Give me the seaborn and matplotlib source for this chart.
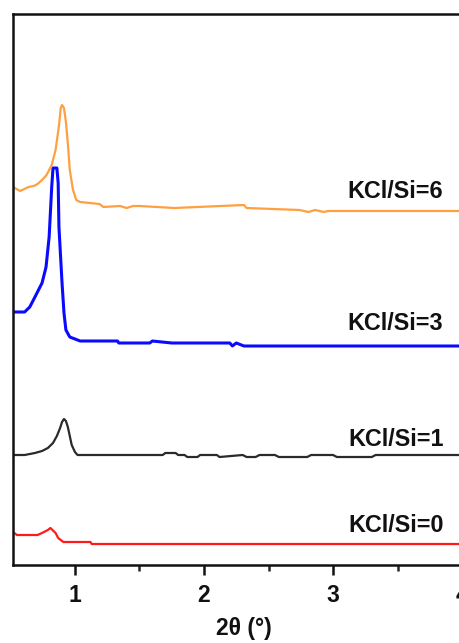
import numpy as np
import pandas as pd
import matplotlib
matplotlib.use("Agg")
import matplotlib.pyplot as plt
import seaborn as sns
from matplotlib.ticker import MultipleLocator

# ---- data (2theta in degrees, intensity in arbitrary offset units) ----
x_si0 = [0.52, 0.55, 0.71, 0.745, 0.79, 0.81, 0.85, 0.87, 0.91, 1.12, 1.13, 4.10]
y_si0 = [33, 30, 30, 32, 35, 37, 32, 27, 23, 23, 21, 21]

x_si1 = [0.52, 0.61, 0.69, 0.745, 0.79, 0.83, 0.86, 0.885, 0.90, 0.915, 0.93, 0.945,
         0.96, 0.975, 1.00, 1.02, 1.30, 1.68, 1.70, 1.78, 1.80, 1.85, 1.87, 1.95, 1.97,
         2.10, 2.12, 2.30, 2.33, 2.40, 2.43, 2.55, 2.58, 2.80, 2.83, 3.00, 3.03, 3.30,
         3.33, 4.10]
y_si1 = [110, 110, 112, 114, 117, 122, 129, 137, 143, 146, 144, 138,
         129, 120, 113, 110, 110, 110, 112, 112, 110, 110, 108, 108, 110,
         110, 108, 110, 108, 108, 110, 110, 108, 108, 110, 110, 108, 108,
         110, 110]

x_si3 = [0.52, 0.61, 0.65, 0.69, 0.745, 0.776, 0.80, 0.82, 0.83, 0.86, 0.87, 0.876,
         0.90, 0.915, 0.93, 0.96, 1.04, 1.33, 1.34, 1.58, 1.60, 1.75, 2.20, 2.22, 2.25,
         2.31, 4.10]
y_si3 = [253, 253, 258, 268, 282, 298, 328, 378, 397, 397, 382, 338,
         282, 252, 235, 228, 224, 224, 222, 222, 224, 222, 222, 219, 222,
         219, 219]

x_si6 = [0.52, 0.575, 0.64, 0.68, 0.71, 0.745, 0.78, 0.82, 0.85, 0.877, 0.89, 0.90,
         0.915, 0.93, 0.946, 0.96, 0.985, 1.01, 1.04, 1.19, 1.22, 1.35, 1.40, 1.45,
         1.50, 1.77, 2.31, 2.33, 2.74, 2.81, 2.86, 2.93, 2.96, 4.10]
y_si6 = [378, 374, 378, 379, 381, 385, 390, 400, 415, 440, 457, 460,
         457, 443, 420, 395, 375, 365, 363, 361, 358, 359, 357, 359,
         359, 357, 360, 357, 355, 353, 355, 353, 354, 354]

series_names = ["KCl/Si=0", "KCl/Si=1", "KCl/Si=3", "KCl/Si=6"]
series_colors = ["#ff1a1a", "#2a2a2a", "#0a0aff", "#ffa040"]
label_x = [3.485, 3.485, 3.485, 3.485]
label_y = [40, 125, 242, 373]

frames = []
for name, xs, ys in zip(series_names,
                        [x_si0, x_si1, x_si3, x_si6],
                        [y_si0, y_si1, y_si3, y_si6]):
    frames.append(pd.DataFrame({"two_theta": xs, "intensity": ys, "sample": name}))
df = pd.concat(frames, ignore_index=True)

# ---- figure ----
sns.set_theme(style="white")
plt.rcParams["font.family"] = ["Liberation Sans", "DejaVu Sans"]

fig = plt.figure(figsize=(4.60, 6.43), dpi=100)
ax = fig.add_axes([13 / 460, 78 / 643, 462 / 460, 551 / 643])

lw_map = {"KCl/Si=0": 1.6, "KCl/Si=1": 1.6, "KCl/Si=3": 2.2, "KCl/Si=6": 1.6}
for name, color in zip(series_names, series_colors):
    sub = df[df["sample"] == name]
    sns.lineplot(data=sub, x="two_theta", y="intensity", color=color,
                 linewidth=lw_map[name], ax=ax, legend=False, sort=False,
                 estimator=None)

for name, lx, ly in zip(series_names, label_x, label_y):
    ax.text(lx, ly, name, ha="center", va="center", fontsize=16.8,
            fontweight="bold", color="#111111")

ax.set_xlim(0.52, 4.10)
ax.set_ylim(0, 551)
ax.xaxis.set_major_locator(MultipleLocator(1))
ax.xaxis.set_minor_locator(MultipleLocator(0.5))
ax.set_yticks([])
ax.tick_params(axis="x", which="major", direction="out", length=7, width=1.8,
               bottom=True, labelsize=16.5, pad=7, colors="#111111")
ax.tick_params(axis="x", which="minor", direction="out", length=4, width=1.8,
               bottom=True)
for lab in ax.get_xticklabels():
    lab.set_fontweight("bold")
ax.set_xlabel("2θ (°)", fontsize=16.5, fontweight="bold", color="#111111", labelpad=7)
ax.set_ylabel("")
for side in ["left", "top", "bottom", "right"]:
    ax.spines[side].set_linewidth(1.8)
    ax.spines[side].set_color("#111111")

fig.savefig("out.png", dpi=100)
